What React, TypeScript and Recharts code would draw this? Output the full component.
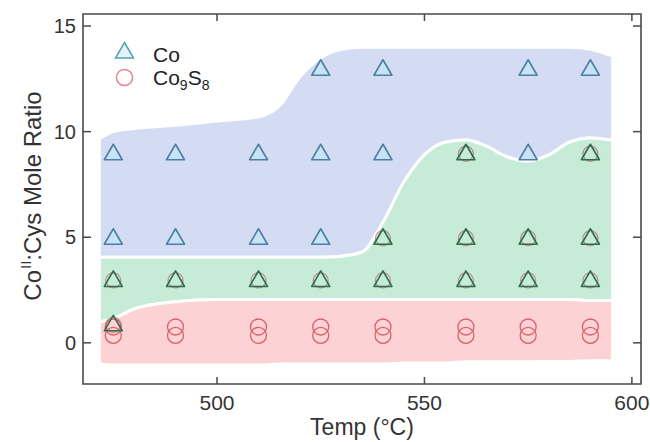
import React from "react";
import { ComposedChart, Area, Scatter, XAxis, YAxis, Legend, ReferenceArea } from "recharts";

const xTicks = [500, 550, 600];
const yTicks = [0, 5, 10, 15];

// hand-drawn phase regions, sampled along temperature
const bandTemp = [472, 475, 480, 490, 500, 510, 515, 520, 525, 530, 535, 540, 545, 550, 555, 560, 565, 570, 575, 580, 585, 590, 595];
const blueTop = [9.7, 10.0, 10.15, 10.3, 10.5, 10.7, 11.2, 12.6, 13.5, 13.9, 14.0, 14.0, 14.0, 14.0, 14.0, 14.0, 14.0, 14.0, 14.0, 14.0, 14.0, 13.9, 13.6];
const blueGreen = [4.05, 4.05, 4.05, 4.05, 4.05, 4.05, 4.05, 4.05, 4.05, 4.1, 4.3, 5.7, 7.6, 8.9, 9.5, 9.6, 9.3, 8.8, 8.6, 8.9, 9.5, 9.7, 9.6];
const greenRed = [1.0, 1.15, 1.6, 1.95, 2.05, 2.05, 2.05, 2.05, 2.05, 2.05, 2.05, 2.05, 2.05, 2.05, 2.05, 2.05, 2.05, 2.05, 2.05, 2.05, 2.05, 2.0, 2.0];
const redBottom = [-1.0, -1.05, -1.05, -1.05, -1.05, -1.05, -1.0, -1.0, -1.0, -1.0, -1.0, -1.0, -0.95, -0.95, -0.95, -0.9, -0.9, -0.9, -0.9, -0.88, -0.88, -0.85, -0.85];

// Co only (blue region)
const coTemp = [475, 475, 490, 490, 510, 510, 525, 525, 525, 540, 540, 575, 575, 590];
const coRatio = [9, 5, 9, 5, 9, 5, 13, 9, 5, 13, 9, 13, 9, 13];

// Co + Co9S8 (green region)
const mixTemp = [475, 475, 490, 510, 525, 540, 540, 560, 560, 560, 575, 575, 590, 590, 590];
const mixRatio = [3, 0.9, 3, 3, 3, 5, 3, 9, 5, 3, 5, 3, 9, 5, 3];

// Co9S8 (red region), doubled points
const sulfTemp = [475, 475, 490, 490, 510, 510, 525, 525, 540, 540, 560, 560, 575, 575, 590, 590];
const sulfRatio = [0.75, 0.35, 0.75, 0.35, 0.75, 0.35, 0.75, 0.35, 0.75, 0.35, 0.75, 0.35, 0.75, 0.35, 0.75, 0.35];

const xDomain = [467.7, 602.2];
const yDomain = [-1.95, 15.57];

const bands = bandTemp.map((t, i) => ({
  temp: t,
  blue: [blueGreen[i], blueTop[i]],
  green: [greenRed[i], blueGreen[i]],
  red: [redBottom[i], greenRed[i]],
}));
const coPts = coTemp.map((t, i) => ({ temp: t, ratio: coRatio[i] }));
const mixPts = mixTemp.map((t, i) => ({ temp: t, ratio: mixRatio[i] }));
const sulfPts = sulfTemp.map((t, i) => ({ temp: t, ratio: sulfRatio[i] }));

const font = "'Liberation Sans', Arial, Helvetica, sans-serif";
const axisColor = "#4a4a4a";
const PLOT_TOP = 14;
const PLOT_RIGHT = 641;

const triPoints = (cx: number, cy: number) =>
  `${cx},${cy - 8.5} ${cx + 9},${cy + 7} ${cx - 9},${cy + 7}`;

const BlueTri = (p: any) => (
  <polygon points={triPoints(p.cx, p.cy)} fill="#c9e3f6" stroke="#4f7ea3" strokeWidth={1.6} strokeLinejoin="round" />
);

const MixMark = (p: any) => (
  <g>
    <circle cx={p.cx} cy={p.cy + 1} r={7.5} fill="none" stroke="#b66c62" strokeOpacity={0.7} strokeWidth={1.3} />
    <polygon points={triPoints(p.cx, p.cy)} fill="none" stroke="#2f6a52" strokeWidth={1.6} strokeLinejoin="round" />
  </g>
);

const RedCircle = (p: any) => (
  <circle cx={p.cx} cy={p.cy} r={8} fill="none" stroke="#d9606b" strokeWidth={1.3} />
);

// inward ticks on bottom and mirrored on top
const XTick = (p: any) => (
  <g>
    <line x1={p.x} x2={p.x} y1={p.y} y2={p.y - 7} stroke={axisColor} strokeWidth={1.5} />
    <line x1={p.x} x2={p.x} y1={PLOT_TOP} y2={PLOT_TOP + 7} stroke={axisColor} strokeWidth={1.5} />
    <text x={p.x} y={p.y + 26} textAnchor="middle" fontSize={21} fontFamily={font} fill="#333">
      {p.payload.value}
    </text>
  </g>
);

// inward ticks on left and mirrored on right
const YTick = (p: any) => (
  <g>
    <line x1={p.x} x2={p.x + 8} y1={p.y} y2={p.y} stroke={axisColor} strokeWidth={1.5} />
    <line x1={PLOT_RIGHT} x2={PLOT_RIGHT - 8} y1={p.y} y2={p.y} stroke={axisColor} strokeWidth={1.5} />
    <text x={p.x - 7} y={p.y + 7} textAnchor="end" fontSize={20} fontFamily={font} fill="#333">
      {p.payload.value}
    </text>
  </g>
);

const LegendBox = () => (
  <svg width={140} height={62} style={{ display: "block" }}>
    <polygon points={triPoints(24.5, 21)} fill="#e6f3f6" stroke="#55a2b2" strokeWidth={1.5} />
    <text x={53} y={32} fontSize={21} fontFamily={font} fill="#222">Co</text>
    <circle cx={24.5} cy={47.5} r={8} fill="none" stroke="#e2838e" strokeWidth={1.5} />
    <text x={53} y={55} fontSize={21} fontFamily={font} fill="#222">
      Co<tspan dy={5} fontSize={14}>9</tspan>
      <tspan dy={-5}>S</tspan>
      <tspan dy={5} fontSize={14}>8</tspan>
    </text>
  </svg>
);

const YTitle = () => (
  <text transform="translate(41,196) rotate(-90)" textAnchor="middle" fontSize={24} fontFamily={font} fill="#333">
    Co<tspan dx={1} dy={-10} fontSize={15}>II</tspan>
    <tspan dy={10}>:Cys Mole Ratio</tspan>
  </text>
);

const XTitle = () => (
  <text x={362} y={435} textAnchor="middle" fontSize={23} fontFamily={font} fill="#333">
    Temp (°C)
  </text>
);

export default function App() {
  return (
    <div style={{ width: 650, height: 442 }}>
      <style>{"body{margin:0}"}</style>
      <ComposedChart width={650} height={442} data={bands} margin={{ top: PLOT_TOP, right: 650 - PLOT_RIGHT, left: 0, bottom: 0 }}>
        <XAxis
          xAxisId="x"
          dataKey="temp"
          type="number"
          domain={xDomain}
          allowDataOverflow
          ticks={xTicks}
          height={58}
          tickSize={0}
          tickMargin={0}
          tickLine={false}
          axisLine={false}
          tick={XTick}
          label={{ content: () => <XTitle /> }}
        />
        <YAxis
          yAxisId="y"
          dataKey="ratio"
          type="number"
          domain={yDomain}
          allowDataOverflow
          ticks={yTicks}
          width={83}
          tickSize={0}
          tickMargin={0}
          tickLine={false}
          axisLine={false}
          tick={YTick}
          label={{ content: () => <YTitle /> }}
        />
        <Legend
          layout="vertical"
          align="center"
          verticalAlign="middle"
          wrapperStyle={{ left: 100, top: 30, width: 140, height: 62 }}
          content={() => <LegendBox />}
        />
        <Area xAxisId="x" yAxisId="y" type="monotone" dataKey="blue" fill="#d3dcf3" fillOpacity={1} stroke="#fff" strokeWidth={3} isAnimationActive={false} dot={false} activeDot={false} />
        <Area xAxisId="x" yAxisId="y" type="monotone" dataKey="green" fill="#c6ecd7" fillOpacity={1} stroke="#fff" strokeWidth={3} isAnimationActive={false} dot={false} activeDot={false} />
        <Area xAxisId="x" yAxisId="y" type="monotone" dataKey="red" fill="#fdd2d4" fillOpacity={1} stroke="#fff" strokeWidth={3} isAnimationActive={false} dot={false} activeDot={false} />
        <ReferenceArea
          xAxisId="x"
          yAxisId="y"
          x1={xDomain[0]}
          x2={xDomain[1]}
          y1={yDomain[0]}
          y2={yDomain[1]}
          fill="none"
          stroke={axisColor}
          strokeWidth={1.6}
          ifOverflow="visible"
        />
        <Scatter xAxisId="x" yAxisId="y" data={sulfPts} shape={RedCircle} isAnimationActive={false} />
        <Scatter xAxisId="x" yAxisId="y" data={coPts} shape={BlueTri} isAnimationActive={false} />
        <Scatter xAxisId="x" yAxisId="y" data={mixPts} shape={MixMark} isAnimationActive={false} />
      </ComposedChart>
    </div>
  );
}
